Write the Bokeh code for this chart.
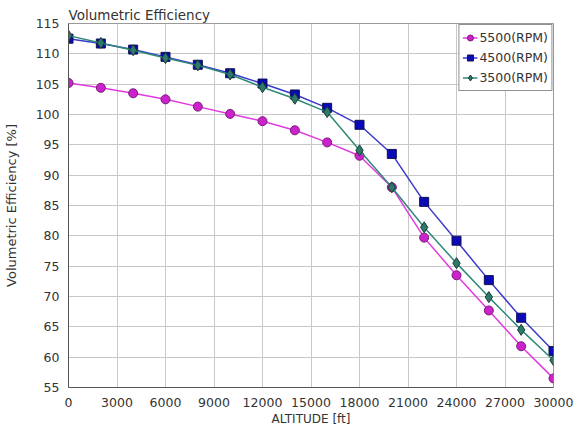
from bokeh.plotting import figure
from bokeh.models import Range1d, FixedTicker, Legend, LegendItem
from bokeh.embed import file_html
from bokeh.resources import INLINE

altitude = [0, 2000, 4000, 6000, 8000, 10000, 12000, 14000, 16000, 18000,
            20000, 22000, 24000, 26000, 28000, 30000]
ve_5500 = [105.2, 104.4, 103.5, 102.5, 101.3, 100.1, 98.9, 97.4, 95.4, 93.2,
           88.0, 79.7, 73.5, 67.7, 61.8, 56.5]
ve_4500 = [112.5, 111.7, 110.7, 109.5, 108.2, 106.8, 105.1, 103.3, 101.1, 98.3,
           93.5, 85.6, 79.2, 72.7, 66.5, 61.0]
ve_3500 = [113.0, 111.8, 110.6, 109.3, 108.1, 106.6, 104.5, 102.6, 100.4, 94.1,
           88.0, 81.4, 75.5, 69.9, 64.5, 59.5]
x_ticks = [0, 3000, 6000, 9000, 12000, 15000, 18000, 21000, 24000, 27000, 30000]
y_ticks = [55, 60, 65, 70, 75, 80, 85, 90, 95, 100, 105, 110, 115]
labels = ["5500(RPM)", "4500(RPM)", "3500(RPM)"]

FONT = "DejaVu Sans"
TXT = "#333333"

p = figure(width=577, height=428, output_backend="svg", toolbar_location=None,
           x_range=Range1d(0, 30000), y_range=Range1d(55, 115),
           min_border_left=63, min_border_right=24, min_border_top=23,
           min_border_bottom=40, title="Volumetric Efficiency")
p.title.text_font = FONT
p.title.text_font_size = "13.5px"
p.title.text_font_style = "normal"
p.title.text_color = TXT
p.title.align = "left"
p.title.standoff = 1
p.title.offset = 0

p.background_fill_color = "white"
p.border_fill_color = "white"
p.outline_line_color = "#999999"
p.outline_line_width = 1

for ax in (p.xaxis, p.yaxis):
    ax.axis_line_color = "#555555"
    ax.major_tick_line_color = None
    ax.minor_tick_line_color = None
    ax.major_label_text_font = FONT
    ax.major_label_text_font_size = "12.5px"
    ax.major_label_text_color = TXT
    ax.axis_label_text_font = FONT
    ax.axis_label_text_font_style = "normal"
    ax.axis_label_text_color = TXT

p.xaxis.axis_label_text_font_size = "12px"
p.yaxis.axis_label_text_font_size = "13px"
p.xaxis.ticker = FixedTicker(ticks=x_ticks)
p.yaxis.ticker = FixedTicker(ticks=y_ticks)
p.xaxis.axis_label = "ALTITUDE [ft]"
p.yaxis.axis_label = "Volumetric Efficiency [%]"
p.xaxis.major_label_standoff = 4
p.yaxis.major_label_standoff = 3
p.xaxis.axis_label_standoff = 2
p.yaxis.axis_label_standoff = 14

p.xgrid.ticker = FixedTicker(ticks=x_ticks)
p.ygrid.ticker = FixedTicker(ticks=y_ticks)
p.xgrid.grid_line_color = "#c8c8c8"
p.ygrid.grid_line_color = "#c8c8c8"

l1 = p.line(altitude, ve_5500, line_color="#e03be0", line_width=1.5)
m1 = p.scatter(altitude, ve_5500, marker="circle", size=9,
               fill_color="#cc22cc", line_color="#7a1a7a", line_width=1)
l2 = p.line(altitude, ve_4500, line_color="#3a3acc", line_width=1.5)
m2 = p.scatter(altitude, ve_4500, marker="square", size=9,
               fill_color="#0a0ab8", line_color="#101050", line_width=1)
l3 = p.line(altitude, ve_3500, line_color="#2f8a78", line_width=1.5)
m3 = p.scatter(altitude, ve_3500, marker="diamond", size=11,
               fill_color="#2b7a6a", line_color="#1a3a33", line_width=1)

legend = Legend(items=[LegendItem(label=labels[0], renderers=[l1, m1]),
                       LegendItem(label=labels[1], renderers=[l2, m2]),
                       LegendItem(label=labels[2], renderers=[l3, m3])],
                location="top_right")
legend.margin = 1
legend.padding = 3
legend.spacing = 1
legend.glyph_width = 15
legend.glyph_height = 19
legend.label_standoff = 2
legend.label_text_font = FONT
legend.label_text_font_size = "12.5px"
legend.label_text_color = TXT
legend.border_line_color = "#222222"
legend.border_line_width = 1.5
legend.background_fill_color = "white"
legend.background_fill_alpha = 1
p.add_layout(legend)

open("out.html", "w").write(file_html(p, INLINE))
